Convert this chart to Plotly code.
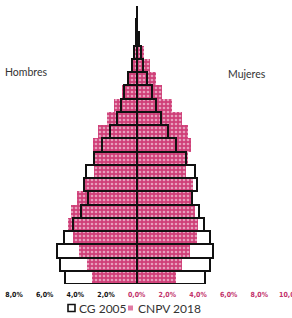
import plotly.graph_objects as go

ages = ["0-4", "5-9", "10-14", "15-19", "20-24", "25-29", "30-34", "35-39", "40-44",
        "45-49", "50-54", "55-59", "60-64", "65-69", "70-74", "75-79", "80-84",
        "85-89", "90-94", "95-99", "100+"]

cg2005_hombres = [4.66, 4.97, 5.19, 4.73, 4.14, 3.66, 3.16, 3.42, 3.33, 2.77, 2.24,
                  1.72, 1.26, 1.05, 0.81, 0.54, 0.28, 0.15, 0.07, 0.02, 0.01]
cg2005_mujeres = [4.47, 4.79, 5.01, 4.75, 4.40, 4.07, 3.64, 3.92, 3.81, 3.22, 2.57,
                  2.03, 1.57, 1.26, 1.02, 0.70, 0.39, 0.26, 0.12, 0.03, 0.01]
cnpv2018_hombres = [2.92, 3.22, 3.79, 4.18, 4.47, 4.31, 3.88, 3.53, 2.79, 2.77, 2.83,
                    2.51, 1.96, 1.46, 0.98, 0.50, 0.28, 0.15, 0.05, 0.02, 0.01]
cnpv2018_mujeres = [2.57, 2.94, 3.49, 3.92, 4.03, 3.81, 3.59, 3.66, 3.22, 3.38, 3.55,
                    3.38, 2.94, 2.29, 1.68, 1.24, 0.87, 0.48, 0.20, 0.04, 0.01]

tick_vals = [-8, -6, -4, -2, 0, 2, 4, 6, 8, 10]
tick_text_left = ["8,0%", "6,0%", "4,0%", "2,0%"]
tick_text_right = ["0,0%", "2,0%", "4,0%", "6,0%", "8,0%", "10,0%"]
series_names = ["CG 2005", "CNPV 2018"]

PINK = "#cf3f78"
PINK_TXT = "#c2306a"
COND = "DejaVu Sans Condensed, Liberation Sans Narrow, sans-serif"
LABEL_FONT = "Lato, Roboto, sans-serif"
pos = list(range(len(ages)))

fig = go.Figure()
pattern = dict(shape=".", fillmode="overlay", fgcolor="white", size=4, solidity=0.35)

fig.add_trace(go.Bar(y=pos, x=[-v for v in cnpv2018_hombres], orientation="h",
                     name=series_names[1], showlegend=False,
                     marker=dict(color=PINK, line=dict(width=0), pattern=pattern)))
fig.add_trace(go.Bar(y=pos, x=cnpv2018_mujeres, orientation="h",
                     name=series_names[1], showlegend=False,
                     marker=dict(color=PINK, line=dict(width=0), pattern=pattern)))
fig.add_trace(go.Bar(y=pos, x=[-v for v in cg2005_hombres], orientation="h",
                     name=series_names[0], showlegend=False,
                     marker=dict(color="rgba(0,0,0,0)", line=dict(color="#111111", width=2))))
fig.add_trace(go.Bar(y=pos, x=cg2005_mujeres, orientation="h",
                     name=series_names[0], showlegend=False,
                     marker=dict(color="rgba(0,0,0,0)", line=dict(color="#111111", width=2))))

ticktext = ["<b>%s</b>" % t for t in tick_text_left] + \
           ["<b><span style='color:%s'>%s</span></b>" % (PINK_TXT, t) for t in tick_text_right]

W, H = 292, 318
ml, mr, mt, mb = 14, 2, 6, 34
pw, ph = W - ml - mr, H - mt - mb

def px_x(x):
    return (x - ml) / pw

def px_y(y):
    return (H - mb - y) / ph

legend_font = dict(family="Lato, Open Sans, sans-serif", size=12, color="#333333")

fig.update_layout(
    width=W, height=H,
    margin=dict(l=ml, r=mr, t=mt, b=mb, autoexpand=False),
    paper_bgcolor="white", plot_bgcolor="white",
    barmode="overlay", bargap=0,
    showlegend=False,
    xaxis=dict(range=[-8, 10], tickvals=tick_vals, ticktext=ticktext, automargin=False,
               showgrid=False, zeroline=True, zerolinecolor="#8c8c8c", zerolinewidth=2,
               layer="above traces", ticks="", showline=False, ticklabelstandoff=5,
               ticklabeloverflow="allow",
               tickfont=dict(family=COND, size=7, color="#111111")),
    yaxis=dict(range=[-0.5, 20.5], showticklabels=False, showgrid=False, automargin=False,
               zeroline=False, showline=False, ticks=""),
    shapes=[
        dict(type="rect", xref="paper", yref="paper",
             x0=px_x(68), x1=px_x(75), y0=px_y(311.5), y1=px_y(304.5),
             line=dict(color="#111111", width=1.6), fillcolor="white"),
        dict(type="rect", xref="paper", yref="paper",
             x0=px_x(128), x1=px_x(133), y0=px_y(310.5), y1=px_y(305.5),
             line=dict(width=0), fillcolor="#e07aa3"),
    ],
    annotations=[
        dict(text="Hombres", xref="paper", yref="paper", x=px_x(26), y=px_y(72),
             showarrow=False, xanchor="center", yanchor="middle",
             font=dict(family=LABEL_FONT, size=10.5, color="#333333")),
        dict(text="Mujeres", xref="paper", yref="paper", x=px_x(247), y=px_y(74),
             showarrow=False, xanchor="center", yanchor="middle",
             font=dict(family=LABEL_FONT, size=10.5, color="#333333")),
        dict(text=series_names[0], xref="paper", yref="paper", x=px_x(77), y=px_y(308),
             showarrow=False, xanchor="left", yanchor="middle", font=legend_font),
        dict(text=series_names[1], xref="paper", yref="paper", x=px_x(136), y=px_y(308),
             showarrow=False, xanchor="left", yanchor="middle", font=legend_font),
    ],
)

fig.write_html("out.html", config={"displayModeBar": False},
               post_script="document.body.style.margin='0';document.body.style.padding='0';")
